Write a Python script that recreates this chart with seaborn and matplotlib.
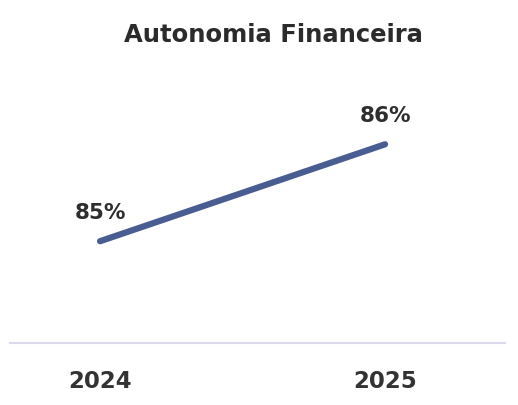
import matplotlib
matplotlib.use("Agg")
import matplotlib.pyplot as plt
import seaborn as sns
import pandas as pd

# Financial autonomy ratio by year (%)
years = ["2024", "2025"]
autonomy_pct = [85, 86]

df = pd.DataFrame({"pos": range(len(years)), "year": years, "value": autonomy_pct})

sns.set_theme(style="white")
plt.rcParams["font.family"] = ["DejaVu Sans"]

fig = plt.figure(figsize=(5.18, 4.06), dpi=100)
ax = fig.add_axes([10 / 518, 62 / 406, 495 / 518, 284 / 406])

sns.lineplot(data=df, x="pos", y="value", ax=ax, color="#4a5d92",
             linewidth=4.5, solid_capstyle="round", legend=False)

for _, row in df.iterrows():
    ax.annotate(f"{row['value']}%", (row["pos"], row["value"]),
                xytext=(0, 14), textcoords="offset points",
                ha="center", va="bottom", fontsize=15.5, fontweight="bold",
                color="#2e2e2e")

ax.set_xlim(-0.316, 1.421)
ax.set_ylim(83.95, 86.88)
ax.set_xticks(df["pos"])
ax.set_xticklabels(years, fontsize=16.5, fontweight="bold", color="#333333")
ax.tick_params(axis="x", length=0, pad=19)
ax.set_yticks([])
ax.set_xlabel("")
ax.set_ylabel("")

for side in ["top", "left", "right"]:
    ax.spines[side].set_visible(False)
ax.spines["bottom"].set_color("#ddd8ee")
ax.spines["bottom"].set_linewidth(1.5)

fig.text(0.527, 0.913, "Autonomia Financeira", ha="center", va="center",
         fontsize=17.5, fontweight="bold", color="#2b2b2b")

fig.savefig("out.png", dpi=100, facecolor="white")
